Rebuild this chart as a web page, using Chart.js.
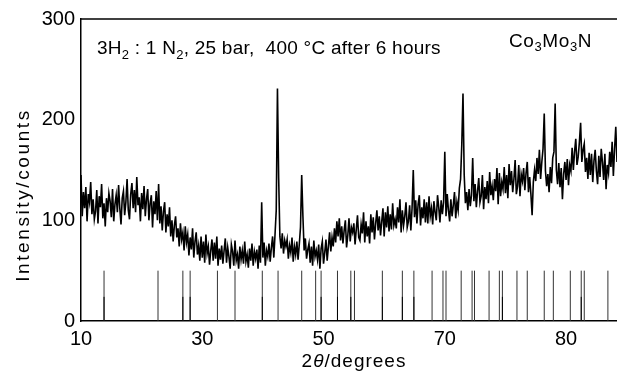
<!DOCTYPE html>
<html lang="en">
<head>
<meta charset="utf-8">
<title>Co3Mo3N XRD pattern</title>
<script src="https://cdn.jsdelivr.net/npm/chart.js@4.4.1/dist/chart.umd.min.js"></script>
<style>
  html, body { margin: 0; padding: 0; background: #fff; }
  canvas { display: block; }
</style>
</head>
<body>
<canvas id="xrdChart" width="617" height="373"></canvas>
<script>
'use strict';

// ============================================================
// Data
// ============================================================
// scan: 2theta from 10.0 deg, one reading every 0.2 deg
const SCAN_START = 10.0;
const SCAN_STEP = 0.2;

// counts, one row per degree (x.0, x.2, x.4, x.6, x.8)
const counts = [
  145, 104, 128, 112, 133,   // 10
   99, 126, 118, 138, 106,   // 11
  121, 101, 109, 130,  97,   // 12
  124, 113, 136, 102, 117,   // 13
   94, 122, 108, 127, 119,   // 14
  103, 131,  99, 116, 125,   // 15
  108, 135, 112,  96, 122,   // 16
  129, 105, 118, 141, 110,   // 17
  101, 126, 137, 112, 130,   // 18
  108, 143, 115, 123,  99,   // 19
  127, 111, 134, 104, 121,   // 20
  131, 100, 117, 125,  93,   // 21
  119, 106, 129, 100, 136,   // 22
   97, 114,  90, 109, 118,   // 23
   88, 106,  94, 113,  84,   // 24
  100,  79,  95, 104,  83,   // 25
   92,  74,  97,  81,  88,   // 26
   70,  94,  78,  86,  65,   // 27
   83,  71,  92,  63,  79,   // 28
   88,  66,  75,  60,  84,   // 29
   63,  79,  58,  86,  67,   // 30
   74,  56,  70,  81,  60,   // 31
   78,  62,  84,  55,  72,   // 32
   61,  75,  57,  70,  82,   // 33
   58,  73,  64,  52,  76,   // 34
   69,  55,  80,  60,  66,   // 35
   52,  74,  61,  70,  57,   // 36
   79,  59,  66,  53,  72,   // 37
   60,  77,  55,  69,  62,   // 38
   71,  52,  75,  58, 118,   // 39
   63,  78,  55,  70,  64,   // 40
   77,  59,  73,  84,  63,   // 41
   86, 110, 231, 142,  84,   // 42
   72,  87,  67,  80,  74,   // 43
   81,  62,  75,  68,  83,   // 44
   59,  74,  66,  79,  61,   // 45
   76,  93, 145, 104,  70,   // 46
   82,  62,  71,  77,  58,   // 47
   74,  55,  80,  64,  70,   // 48
   61,  76,  52,  72,  79,   // 49
   57,  68,  81,  60,  74,   // 50
   88,  69,  83,  74,  92,   // 51
   78,  99,  84, 102,  80,   // 52
   94,  77,  90, 100,  73,   // 53
   85, 102,  79,  93,  88,   // 54
   97,  76,  91, 105,  83,   // 55
   80,  96,  87, 108,  78,   // 56
   99,  84,  94,  77, 106,   // 57
   88, 103,  81,  97, 110,   // 58
   90, 104,  85,  99, 112,   // 59
   84, 108,  93, 114,  89,   // 60
  106,  91, 117,  95, 101,   // 61
   92, 113,  98, 121,  88,   // 62
  110,  95, 104, 118,  93,   // 63
   99, 115,  90, 112, 150,   // 64
  103, 120,  97, 116, 125,   // 65
   95, 113, 102, 121,  98,   // 66
  118,  97, 124, 104, 112,   // 67
   96, 119, 108, 100, 125,   // 68
  113,  98, 120, 106, 118,   // 69
  168, 104, 126, 110,  99,   // 70
  121, 104, 115, 128, 102,   // 71
  118, 110, 132, 141, 175,   // 72
  226, 145, 117, 128, 110,   // 73
  131, 114, 125, 162, 119,   // 74
  136, 113, 129, 142, 118,   // 75
  124, 145, 111, 133, 121,   // 76
  139, 117, 148, 125, 134,   // 77
  120, 141, 129, 152, 116,   // 78
  147, 124, 138, 131, 153,   // 79
  127, 145, 122, 156, 135,   // 80
  149, 128, 141, 160, 126,   // 81
  134, 155, 124, 146, 139,   // 82
  152, 130, 147, 158, 128,   // 83
  143, 126, 105, 138, 150,   // 84
  139, 162, 146, 170, 141,   // 85
  158, 171, 206, 149, 134,   // 86
  146, 128, 153, 137, 162,   // 87
  168, 216, 150, 136, 157,   // 88
  133, 152, 121, 146, 158,   // 89
  140, 161, 135, 155, 149,   // 90
  172, 150, 168, 181, 155,   // 91
  163, 178, 197, 158, 170,   // 92
  176, 148, 162, 141, 167,   // 93
  145, 166, 138, 159, 170,   // 94
  149, 136, 164, 143, 171,   // 95
  158, 140, 166, 131, 155,   // 96
  147, 168, 153, 178, 144,   // 97
  171, 193, 158,             // 98
];

// reference line pattern (Co3Mo3N), 2theta positions
const stickPos = [
  13.8, 22.7, 26.8, 28.0, 32.5, 35.4, 39.9, 42.5, 46.4, 48.7,
  49.6, 52.3, 54.5, 55.1, 59.7, 63.0, 64.9, 67.9, 69.7, 70.2,
  72.7, 74.5, 74.9, 77.3, 79.0, 79.5, 81.9, 83.6, 86.4, 87.9,
  90.7, 92.5, 93.0, 96.9,
];
const STICK_HEIGHT = 50;

// lines drawn darker in the lower half
const strongPos = [13.8, 26.8, 28.0, 39.9, 49.6, 52.3, 54.5, 59.7, 63.0, 64.9, 79.5, 92.5];
const STRONG_HEIGHT = 24;

// axis ticks (the last label on the figure reads 80)
const xTickValues = [10, 30, 50, 70, 90];
const xTickLabels = ['10', '30', '50', '70', '80'];
const yTickValues = [0, 100, 200, 300];

// ============================================================
// Helpers
// ============================================================
const FONT = '"Liberation Sans", Arial, Helvetica, sans-serif';

function toPoints(values) {
  return values.map((v, i) => ({ x: +(SCAN_START + i * SCAN_STEP).toFixed(1), y: v }));
}

function toSticks(positions, height) {
  const pts = [];
  positions.forEach(p => {
    pts.push({ x: p, y: 0 }, { x: p, y: height }, { x: p, y: null });
  });
  return pts;
}

/**
 * Draw a run of text pieces (sub / sup / italic) as one line.
 */
function drawRich(ctx, parts, x, y, opts) {
  const size = opts.size;
  const small = Math.round(size * 0.68);
  const fontOf = p =>
    `${p.italic ? 'italic ' : ''}${p.sub || p.sup ? small : size}px ${FONT}`;

  ctx.save();
  ctx.letterSpacing = (opts.spacing || 0) + 'px';
  ctx.textAlign = 'left';
  ctx.textBaseline = 'alphabetic';
  ctx.fillStyle = '#000';

  let total = 0;
  const widths = parts.map(p => {
    ctx.font = fontOf(p);
    const w = ctx.measureText(p.text).width;
    total += w;
    return w;
  });

  ctx.translate(x, y);
  if (opts.rotate) ctx.rotate(opts.rotate);
  let cx = opts.align === 'center' ? -total / 2 : 0;
  parts.forEach((p, i) => {
    ctx.font = fontOf(p);
    const dy = p.sub ? size * 0.25 : p.sup ? -size * 0.4 : 0;
    ctx.fillText(p.text, cx, dy);
    cx += widths[i];
  });
  ctx.restore();
}

// ============================================================
// Labels, frame line on top
// ============================================================
const labelPlugin = {
  id: 'xrdLabels',
  afterDraw(chart) {
    const { ctx, chartArea } = chart;

    // top frame line
    ctx.save();
    ctx.strokeStyle = '#000';
    ctx.lineWidth = 1.5;
    ctx.beginPath();
    ctx.moveTo(chartArea.left, chartArea.top);
    ctx.lineTo(chartArea.right, chartArea.top);
    ctx.stroke();
    ctx.restore();

    drawRich(ctx, [
      { text: '3H' }, { text: '2', sub: true },
      { text: ' : 1 N' }, { text: '2', sub: true },
      { text: ', 25 bar,  400 °C after 6 hours' },
    ], 97, 54, { size: 19, spacing: 0.25 });

    drawRich(ctx, [
      { text: 'Co' }, { text: '3', sub: true },
      { text: 'Mo' }, { text: '3', sub: true },
      { text: 'N' },
    ], 509, 46.5, { size: 19, spacing: 0.6 });

    drawRich(ctx, [
      { text: '2' }, { text: 'θ', italic: true }, { text: '/degrees' },
    ], 354, 367, { size: 19, spacing: 1, align: 'center' });

    drawRich(ctx, [
      { text: 'Intensity/counts' },
    ], 28.5, 195, { size: 19, spacing: 2.6, align: 'center', rotate: -Math.PI / 2 });
  },
};

// ============================================================
// Chart
// ============================================================
const ctx = document.getElementById('xrdChart').getContext('2d');

new Chart(ctx, {
  type: 'line',
  data: {
    datasets: [
      {
        label: 'reference lines',
        data: toSticks(stickPos, STICK_HEIGHT),
        borderColor: '#333',
        borderWidth: 1,
        pointRadius: 0,
        spanGaps: false,
        order: 3,
      },
      {
        label: 'reference lines (lower)',
        data: toSticks(strongPos, STRONG_HEIGHT),
        borderColor: '#000',
        borderWidth: 1,
        pointRadius: 0,
        spanGaps: false,
        order: 2,
      },
      {
        label: 'Co3Mo3N',
        data: toPoints(counts),
        borderColor: '#000',
        borderWidth: 1.6,
        pointRadius: 0,
        tension: 0,
        order: 1,
      },
    ],
  },
  options: {
    responsive: false,
    devicePixelRatio: 1,
    animation: false,
    events: [],
    layout: { padding: { top: 19, right: 0, bottom: 0, left: 0 } },
    plugins: {
      legend: { display: false },
      tooltip: { enabled: false },
    },
    scales: {
      x: {
        type: 'linear',
        min: 10,
        max: 98.4,
        grid: { display: false, drawTicks: false },
        border: { display: true, color: '#000', width: 1.5 },
        ticks: {
          color: '#000',
          font: { family: FONT, size: 20 },
          padding: 6,
          maxRotation: 0,
          autoSkip: false,
          callback(value) {
            const i = xTickValues.indexOf(value);
            return i >= 0 ? xTickLabels[i] : '';
          },
        },
        afterBuildTicks(axis) {
          axis.ticks = xTickValues.map(v => ({ value: v }));
        },
        afterFit(scale) {
          scale.height = 52;
        },
      },
      y: {
        min: 0,
        max: 300,
        grid: { display: false, drawTicks: false },
        border: { display: true, color: '#000', width: 1.5 },
        ticks: {
          color: '#000',
          font: { family: FONT, size: 20 },
          padding: 6,
        },
        afterBuildTicks(axis) {
          axis.ticks = yTickValues.map(v => ({ value: v }));
        },
        afterFit(scale) {
          scale.width = 81;
        },
      },
    },
  },
  plugins: [labelPlugin],
});
</script>
</body>
</html>
